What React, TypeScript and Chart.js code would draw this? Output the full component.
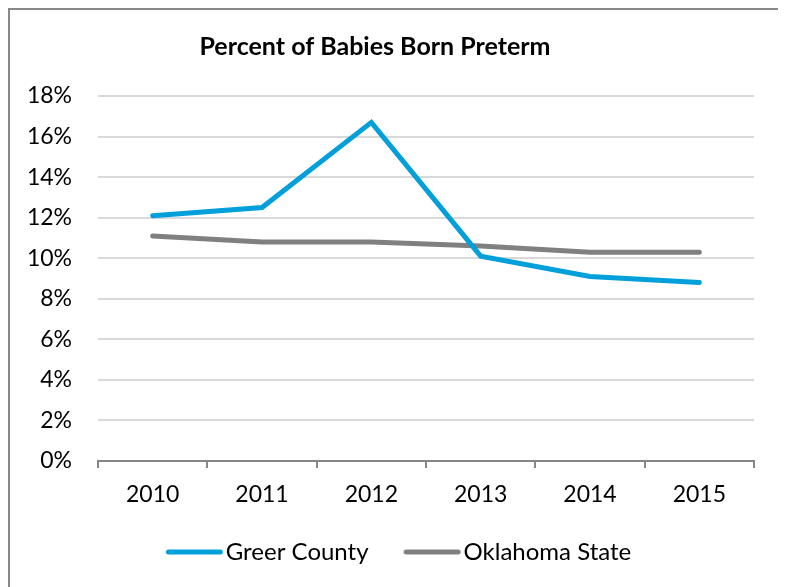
import React, { useEffect, useRef } from "react";
import { Chart, registerables } from "chart.js";

Chart.register(...registerables);

const titleText = "Percent of Babies Born Preterm";
const years = ["2010", "2011", "2012", "2013", "2014", "2015"];
const greerCounty = [12.1, 12.5, 16.7, 10.1, 9.1, 8.8];
const oklahomaState = [11.1, 10.8, 10.8, 10.6, 10.3, 10.3];
const seriesNames = ["Greer County", "Oklahoma State"];
const seriesColors = ["#02A0DB", "#808080"];
const yMin = 0;
const yMax = 18;
const yStep = 2;

const FONT = "Lato, 'Open Sans', sans-serif";

function legendSwatch(color: string) {
  const c = document.createElement("canvas");
  c.width = 72;
  c.height = 8;
  const ctx = c.getContext("2d")!;
  ctx.strokeStyle = color;
  ctx.lineWidth = 5;
  ctx.lineCap = "round";
  ctx.beginPath();
  ctx.moveTo(14.5, 4);
  ctx.lineTo(66.5, 4);
  ctx.stroke();
  return c;
}

const titlePlugin = {
  id: "customTitle",
  afterDraw(chart: any) {
    const ctx = chart.ctx;
    ctx.save();
    ctx.font = `bold 25px ${FONT}`;
    ctx.fillStyle = "#000";
    ctx.textAlign = "center";
    ctx.textBaseline = "middle";
    ctx.fillText(titleText, 365, 37);
    ctx.restore();
  },
};

export default function App() {
  const ref = useRef<HTMLCanvasElement>(null);

  useEffect(() => {
    if (!ref.current) return;
    const mk = (i: number, data: number[]) => ({
      label: seriesNames[i],
      data,
      borderColor: seriesColors[i],
      backgroundColor: seriesColors[i],
      borderWidth: 5,
      borderCapStyle: "round" as const,
      borderJoinStyle: "miter" as const,
      pointRadius: 0,
      pointHoverRadius: 0,
      pointStyle: legendSwatch(seriesColors[i]),
      tension: 0,
    });
    const chart = new Chart(ref.current, {
      type: "line",
      data: {
        labels: years,
        datasets: [mk(0, greerCounty), mk(1, oklahomaState)],
      },
      options: {
        responsive: false,
        animation: false,
        devicePixelRatio: 1,
        layout: { padding: { top: 86, left: 0, right: 13, bottom: 13 } },
        plugins: {
          title: { display: false },
          tooltip: { enabled: false },
          legend: {
            position: "bottom",
            labels: {
              usePointStyle: true,
              pointStyleWidth: 48,
              padding: 35,
              color: "#000",
              font: { family: FONT, size: 24 },
            },
          },
        },
        scales: {
          x: {
            offset: true,
            afterFit(scale: any) {
              scale.height = 44;
            },
            grid: {
              offset: true,
              drawOnChartArea: false,
              drawTicks: true,
              tickLength: 7,
              color: "#868686",
              lineWidth: 2,
            },
            border: { display: true, color: "#868686", width: 2 },
            ticks: {
              color: "#000",
              padding: 13,
              font: { family: FONT, size: 23 },
              maxRotation: 0,
            },
          },
          y: {
            min: yMin,
            max: yMax,
            afterFit(scale: any) {
              scale.width = 88;
            },
            grid: {
              color: "#d9d9d9",
              lineWidth: 2,
              drawTicks: false,
            },
            border: { display: false },
            ticks: {
              stepSize: yStep,
              padding: 26,
              color: "#000",
              font: { family: FONT, size: 23 },
              callback: (v: any) => `${v}%`,
            },
          },
          spacer: {
            type: "linear",
            position: "right",
            display: true,
            afterFit(scale: any) {
              scale.width = 33;
            },
            grid: { display: false, drawTicks: false },
            border: { display: false },
            ticks: { display: false },
          },
        },
      },
      plugins: [titlePlugin],
    });
    return () => chart.destroy();
  }, []);

  return (
    <div
      style={{
        width: 776,
        height: 600,
        border: "2px solid #888",
        boxSizing: "border-box",
        background: "#fff",
        overflow: "hidden",
      }}
    >
      <canvas ref={ref} width={790} height={577} style={{ display: "block" }} />
    </div>
  );
}
